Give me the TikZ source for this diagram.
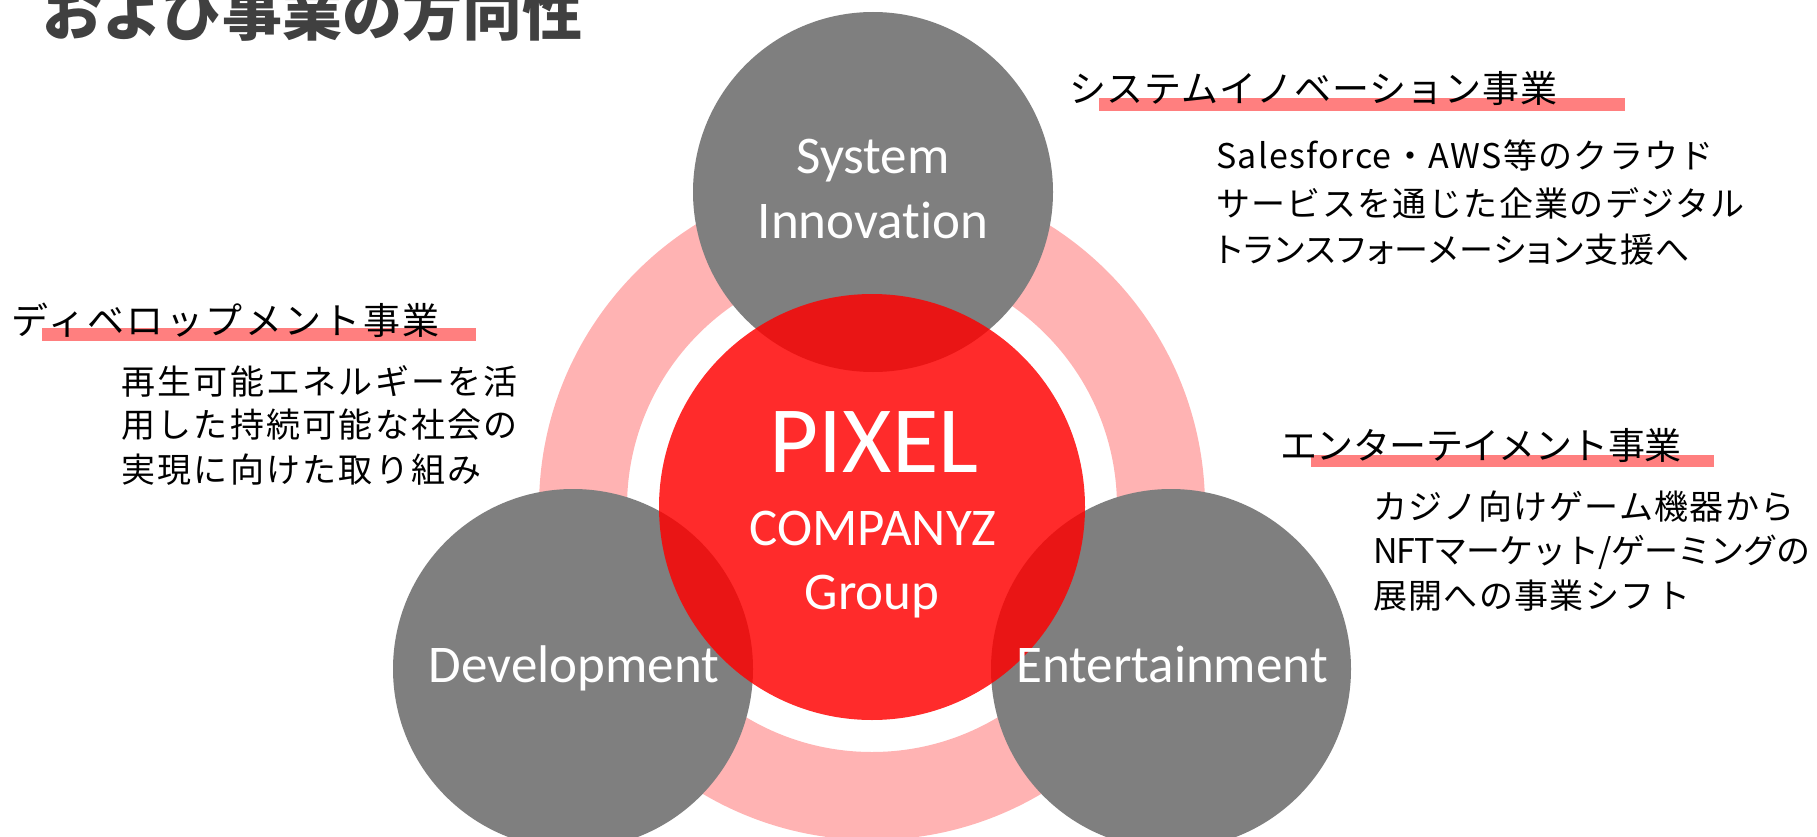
\documentclass[tikz,border=0pt]{standalone}
\usepackage{fontspec}
\newfontfamily\jpfont{Noto Sans CJK JP}
\newfontfamily\jpbody[LetterSpace=4]{Noto Sans CJK JP}
\newfontfamily\carlito[Ligatures=NoCommon]{Carlito}
\definecolor{ringpink}{HTML}{FFB3B3}
\definecolor{circgray}{HTML}{7F7F7F}
\definecolor{barpink}{HTML}{FF7F7F}
\definecolor{titlegray}{HTML}{404040}
\tikzset{
  ring/.style={fill=ringpink, even odd rule},
  bubble/.style={circle, fill=circgray, minimum size=360pt, inner sep=0pt},
  core/.style={circle, fill=red, fill opacity=0.83, minimum size=426pt, inner sep=0pt},
  bar/.style={fill=barpink},
  lab/.style={anchor=base, text=white, inner sep=0pt, font=\carlito\fontsize{53}{53}\selectfont},
  head/.style={anchor=base west, inner sep=0pt, text=black, font=\jpfont\fontsize{37}{37}\selectfont},
  body/.style={anchor=base west, inner sep=0pt, text=black, font=\jpbody\fontsize{34}{34}\selectfont},
}
\begin{document}
\begin{tikzpicture}[x=1pt,y=-1pt]
\useasboundingbox (0,0) rectangle (1817,837);
% ring
\fill[ring] (872,507) circle (333pt) (872,507) circle (245pt);
% outer circles
\node[bubble] (sys) at (873,192) {};
\node[bubble] (dev) at (573,669) {};
\node[bubble] (ent) at (1171,669) {};
% core
\node[core] (grp) at (872,507) {};
% circle labels
\node[lab] (sys1) at (873,174) {System};
\node[lab] (sys2) at (873,238) {Innovation};
\node[lab, font=\carlito\fontsize{95}{95}\selectfont] (px) at (874,472) {PIXEL};
\node[lab] (cz) at (873,545) {COMPANYZ};
\node[lab] (gp) at (872,609) {Group};
\node[lab] (devl) at (574,682) {Development};
\node[lab] (entl) at (1172,682) {Entertainment};
% title
\node[anchor=base west, inner sep=0pt, text=titlegray, font=\jpfont\bfseries\fontsize{60}{60}\selectfont] (title) at (42,36) {および事業の方向性};
% underline bars
\fill[bar] (1099,98) rectangle (1625,111);
\fill[bar] (42,328) rectangle (476,341);
\fill[bar] (1311,455) rectangle (1714,467);
% headings
\node[head, font=\jpfont\fontsize{37}{37}\selectfont\addfontfeature{LetterSpace=2}] (h1) at (1069,103) {システムイノベーション事業};
\node[head, font=\jpfont\fontsize{37}{37}\selectfont\addfontfeature{LetterSpace=6.5}] (h2) at (11,334) {ディベロップメント事業};
\node[head, font=\jpfont\fontsize{37}{37}\selectfont\addfontfeature{LetterSpace=-1.5}] (h3) at (1280,459) {エンターテイメント事業};
% bodies
\node[body] (s1) at (1216,169) {Salesforce・AWS等のクラウド};
\node[body] (s2) at (1216,216) {サービスを通じた企業のデジタル};
\node[body, font=\jpbody\fontsize{34}{34}\selectfont\addfontfeature{RawFeature=+palt}] (s3) at (1216,262) {トランスフォーメーション支援へ};
\node[body, font=\jpbody\fontsize{34}{34}\selectfont\addfontfeature{LetterSpace=6.7}] (d1) at (121,394) {再生可能エネルギーを活};
\node[body, font=\jpbody\fontsize{34}{34}\selectfont\addfontfeature{LetterSpace=6.7}] (d2) at (121,437) {用した持続可能な社会の};
\node[body, font=\jpbody\fontsize{34}{34}\selectfont\addfontfeature{LetterSpace=6.7}] (d3) at (121,482) {実現に向けた取り組み};
\node[body] (e1) at (1373,519) {カジノ向けゲーム機器から};
\node[body, font=\jpbody\fontsize{34}{34}\selectfont\addfontfeature{LetterSpace=-3}] (e2) at (1373,563) {NFTマーケット/ゲーミングの};
\node[body] (e3) at (1373,608) {展開への事業シフト};
\end{tikzpicture}
\end{document}
